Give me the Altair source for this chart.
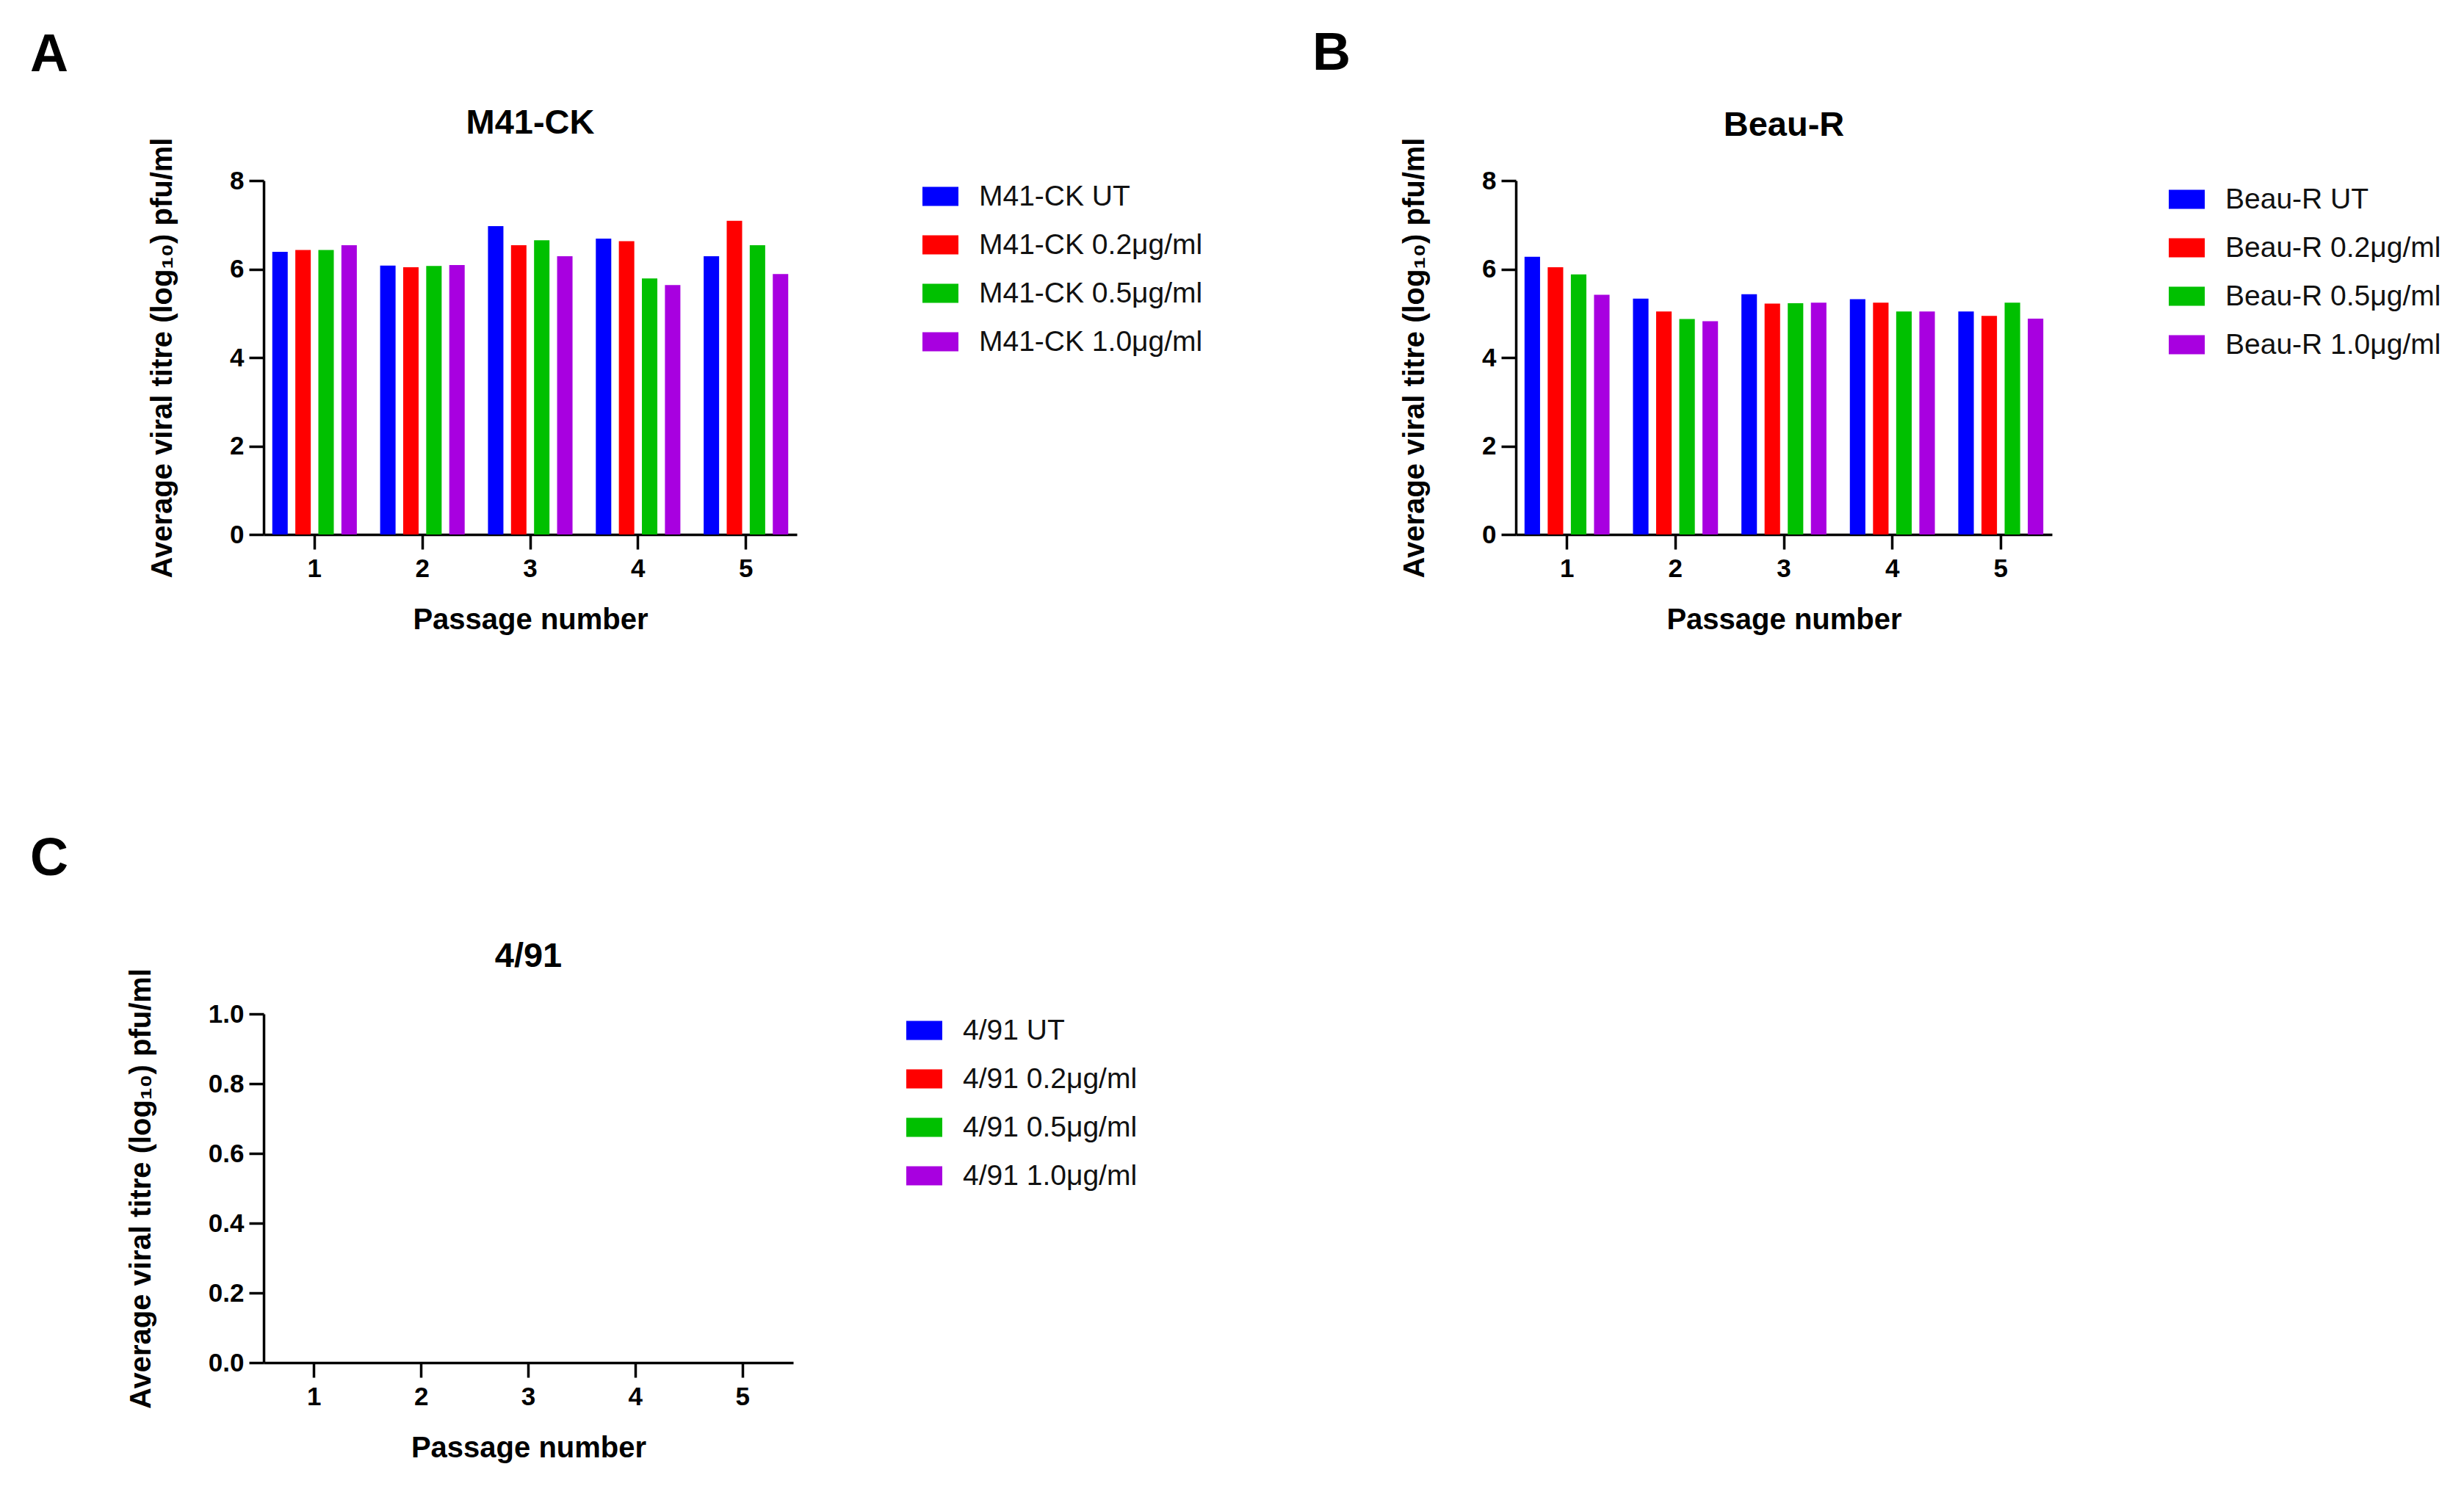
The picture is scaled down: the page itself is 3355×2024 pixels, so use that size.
import altair as alt
import pandas as pd

FONT = "Liberation Sans"

passages = ["1", "2", "3", "4", "5"]
doses = ["UT", "0.2μg/ml", "0.5μg/ml", "1.0μg/ml"]
colors = ["#0000FF", "#FF0000", "#00C000", "#A800E0"]

# M41-CK (log10 pfu/ml) per passage 1..5
m41_ut = [6.39, 6.08, 6.97, 6.69, 6.29]
m41_02 = [6.43, 6.04, 6.54, 6.63, 7.09]
m41_05 = [6.43, 6.07, 6.65, 5.79, 6.54]
m41_10 = [6.54, 6.09, 6.29, 5.64, 5.89]

# Beau-R
beau_ut = [6.28, 5.33, 5.43, 5.32, 5.04]
beau_02 = [6.04, 5.04, 5.22, 5.24, 4.94]
beau_05 = [5.88, 4.87, 5.23, 5.04, 5.24]
beau_10 = [5.42, 4.82, 5.24, 5.04, 4.88]

# 4/91 (no bars shown)
v491_ut = [None, None, None, None, None]
v491_02 = [None, None, None, None, None]
v491_05 = [None, None, None, None, None]
v491_10 = [None, None, None, None, None]

y_title = "Average viral titre (log₁₀) pfu/ml"
x_title = "Passage number"


def panel(strain, series, ydomain, yticks, yfmt, letter, ldx, ldy, tdy,
          legx, legy, w, h):
    labels = [f"{strain} {d}" for d in doses]
    rows = []
    for lab, vals in zip(labels, series):
        for p, v in zip(passages, vals):
            rows.append({"passage": p, "series": lab, "titre": v})
    df = pd.DataFrame(rows)

    bars = alt.Chart(df).mark_bar(strokeWidth=0).encode(
        x=alt.X(
            "passage:N",
            sort=passages,
            scale=alt.Scale(domain=passages, paddingInner=0.216, paddingOuter=0.08),
            axis=alt.Axis(title=x_title, labelAngle=0, labelPadding=9,
                          titlePadding=32),
        ),
        xOffset=alt.XOffset(
            "series:N",
            sort=labels,
            scale=alt.Scale(domain=labels, paddingInner=0.33, paddingOuter=0),
        ),
        y=alt.Y(
            "titre:Q",
            scale=alt.Scale(domain=ydomain, nice=False, zero=True),
            axis=alt.Axis(title=y_title, values=yticks, format=yfmt, labelPadding=7,
                          titlePadding=71),
        ),
        color=alt.Color(
            "series:N",
            sort=labels,
            scale=alt.Scale(domain=labels, range=colors),
            legend=alt.Legend(
                title=None,
                orient="none",
                legendX=legx,
                legendY=legy,
                padding=0,
                symbolType="M-1,-0.53H1V0.53H-1Z",
                symbolSize=2401,
                symbolStrokeWidth=0,
                symbolOpacity=1,
                labelFont=FONT,
                labelFontSize=39,
                labelColor="#111111",
                labelOffset=28,
                labelLimit=800,
                rowPadding=21,
            ),
        ),
    )

    letter_df = pd.DataFrame({"letter": [letter]})
    letter_mark = alt.Chart(letter_df).mark_text(
        align="left", baseline="alphabetic", fontSize=72, fontWeight="bold",
        font=FONT, color="black",
    ).encode(x=alt.value(ldx), y=alt.value(ldy), text="letter:N")

    title_df = pd.DataFrame({"title": [strain]})
    title_mark = alt.Chart(title_df).mark_text(
        align="center", baseline="alphabetic", fontSize=47, fontWeight="bold",
        font=FONT, color="black",
    ).encode(x=alt.value(w / 2), y=alt.value(tdy), text="title:N")

    return alt.layer(bars, letter_mark, title_mark).properties(width=w, height=h)


pA = panel("M41-CK", [m41_ut, m41_02, m41_05, m41_10], [0, 8], [0, 2, 4, 6, 8], "d",
           "A", -318, -149, -64, 897, -3, 726, 482)
pB = panel("Beau-R", [beau_ut, beau_02, beau_05, beau_10], [0, 8], [0, 2, 4, 6, 8], "d",
           "B", -277, -151, -61, 889, 1, 730, 482)
pC = panel("4/91", [v491_ut, v491_02, v491_05, v491_10], [0, 1],
           [0, 0.2, 0.4, 0.6, 0.8, 1.0], ".1f",
           "C", -318, -189, -64, 875, -2, 721, 475)

chart = alt.concat(
    pA, pB, pC, columns=2, bounds="flush",
    spacing={"row": 653, "column": 979},
).resolve_scale(
    color="independent", x="independent", y="independent", xOffset="independent"
).properties(
    padding={"left": 33, "top": 29, "right": 10, "bottom": 10},
    background="white",
).configure_axis(
    domainColor="black", domainWidth=3.5, tickColor="black", tickWidth=3.5, tickSize=20,
    labelFont=FONT, labelFontSize=35, labelFontWeight="bold", labelColor="black",
    titleFont=FONT, titleFontSize=40, titleFontWeight="bold", titleColor="black",
    grid=False,
).configure_view(strokeWidth=0)

chart.save("out.html", embed_options={"renderer": "svg", "actions": False})
